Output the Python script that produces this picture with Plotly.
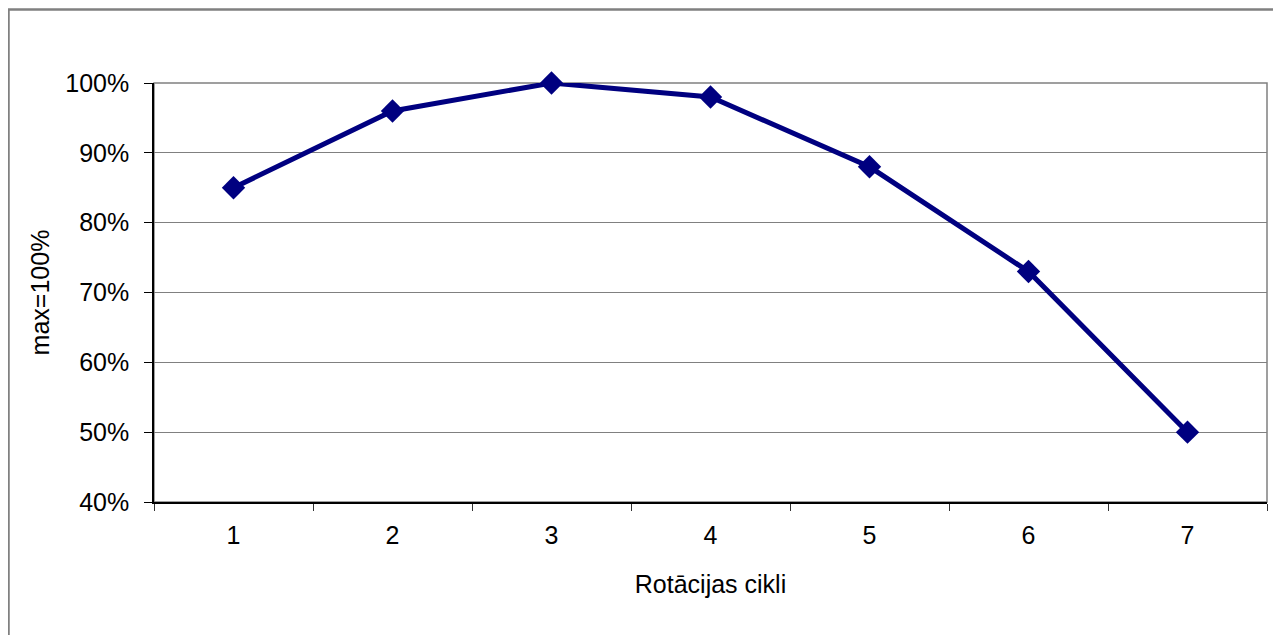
import plotly.graph_objects as go

categories = ["1", "2", "3", "4", "5", "6", "7"]
values = [0.85, 0.96, 1.00, 0.98, 0.88, 0.73, 0.50]
y_ticks = [0.4, 0.5, 0.6, 0.7, 0.8, 0.9, 1.0]
y_ticklabels = ["40%", "50%", "60%", "70%", "80%", "90%", "100%"]
x_title = "Rotācijas cikli"
y_title = "max=100%"

OFF = 8  # page body margin
W, H = 1281 - OFF, 635 - OFF
L, R, T, B = 154 - OFF, 14, 83 - OFF, 133
pw, ph = W - L - R, H - T - B

FONT = "Liberation Sans, Arial, sans-serif"
FS = 25

fig = go.Figure()
fig.add_trace(go.Scatter(
    x=categories, y=values, mode="lines+markers",
    line=dict(color="#000080", width=5),
    marker=dict(symbol="diamond", size=18, color="#000080"),
    showlegend=False, hoverinfo="skip", cliponaxis=False,
))

# plot area border (gray)
fig.add_shape(type="rect", xref="paper", yref="paper", x0=0, x1=1, y0=0, y1=1,
              line=dict(color="#808080", width=1.5), layer="below")
# outer chart border
fig.add_shape(type="rect", xref="paper", yref="paper",
              x0=(0.5 - L) / pw, x1=(W + 10 - L) / pw,
              y0=(ph - (H + 10 - T)) / ph, y1=(ph - (1.5 - T)) / ph,
              line=dict(color="#808080", width=2.5), layer="below")

fig.update_layout(
    width=W, height=H,
    margin=dict(l=L, r=R, t=T, b=B, pad=0),
    paper_bgcolor="white", plot_bgcolor="white",
    font=dict(family=FONT, size=FS, color="black"),
    xaxis=dict(
        type="category", tickson="boundaries", ticks="outside", ticklen=7,
        tickcolor="#333333", tickwidth=1.2, showgrid=False,
        showline=True, linecolor="black", linewidth=1.5,
        title=dict(text=x_title, standoff=28, font=dict(size=FS)),
        tickfont=dict(size=FS), ticklabelstandoff=10,
        range=[-0.5, 6.5], fixedrange=True,
    ),
    yaxis=dict(
        range=[0.4, 1.0], tickvals=y_ticks, ticktext=y_ticklabels,
        ticks="outside", ticklen=8, tickcolor="black", tickwidth=1.2,
        showgrid=True, gridcolor="#808080", gridwidth=1.2,
        showline=True, linecolor="black", linewidth=1.5, zeroline=False,
        tickfont=dict(size=FS), ticklabelstandoff=10,
        title=dict(text=y_title, standoff=9, font=dict(size=FS)),
        fixedrange=True,
    ),
)

fig.write_html("out.html")
